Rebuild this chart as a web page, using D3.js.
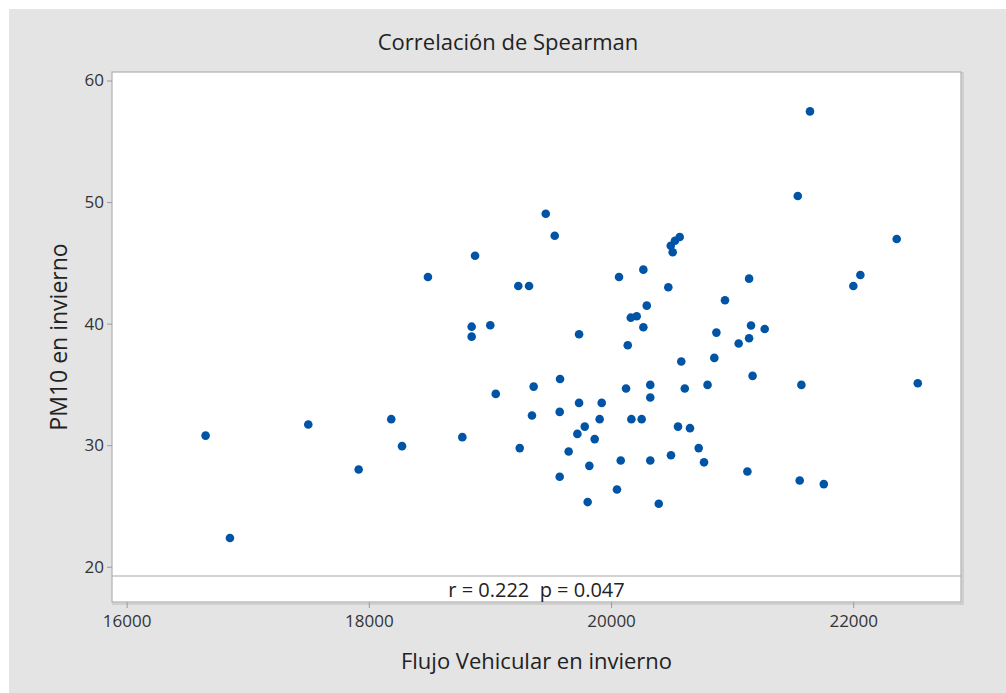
<!DOCTYPE html>
<html>
<head>
<meta charset="utf-8">
<script src="https://cdn.jsdelivr.net/npm/d3@7"></script>
<style>
  body { margin: 0; background: #fff; }
  text { font-family: "Open Sans", "Noto Sans", sans-serif; fill: #222; }
  .tick text { font-size: 17px; fill: #333; }
  .tick line { stroke: #9a9a9a; }
</style>
</head>
<body>
<div class="chart"></div>
<script>
var svgWidth = 1006;
var svgHeight = 693;

// plot box in pixels
var box = { left: 112, top: 72, right: 961, bottom: 602 };
var statsHeight = 26;

// data
var flujo = [16652, 16853, 17500, 17916, 18185, 18274, 18488, 18772, 18849, 18849,
  18877, 19003, 19048, 19234, 19323, 19246, 19347, 19361, 19461, 19535,
  19579, 19576, 19576, 19650, 19736, 19736, 19722, 19783, 19807, 19821,
  19865, 19923, 19906, 20049, 20080, 20066, 20124, 20138, 20163, 20212,
  20168, 20253, 20267, 20267, 20295, 20324, 20324, 20324, 20394, 20473,
  20495, 20493, 20509, 20528, 20567, 20553, 20580, 20609, 20652, 20724,
  20768, 20797, 20853, 20870, 20941, 21054, 21140, 21140, 21156, 21126,
  21169, 21269, 21542, 21572, 21558, 21643, 21757, 22001, 22059, 22359,
  22533];
var pm10 = [30.79, 22.36, 31.70, 28.00, 32.14, 29.92, 43.84, 30.66, 39.75, 38.93,
  45.59, 39.87, 34.22, 43.10, 43.10, 29.76, 32.44, 34.82, 49.04, 47.23,
  35.45, 32.74, 27.40, 29.48, 39.13, 33.48, 30.93, 31.53, 25.32, 28.30,
  30.50, 33.48, 32.14, 26.35, 28.74, 43.84, 34.66, 38.22, 40.49, 40.61,
  32.14, 32.14, 44.44, 39.70, 41.48, 34.96, 33.92, 28.74, 25.18, 42.99,
  29.17, 46.41, 45.87, 46.82, 47.13, 31.53, 36.88, 34.66, 31.40, 29.76,
  28.59, 34.96, 37.18, 39.26, 41.92, 38.36, 43.70, 38.80, 39.84, 27.83,
  35.70, 39.56, 50.50, 34.96, 27.09, 57.46, 26.80, 43.10, 44.00, 46.96,
  35.10];

var xTicks = [16000, 18000, 20000, 22000];
var yTicks = [20, 30, 40, 50, 60];
var xDomain = [15879, 22890];
var yDomain = [17.1, 60.7];

var title = "Correlación de Spearman";
var xLabel = "Flujo Vehicular en invierno";
var yLabel = "PM10 en invierno";
var statsText = "r = 0.222  p = 0.047";

var svg = d3.select(".chart")
  .append("svg")
  .attr("width", svgWidth)
  .attr("height", svgHeight);

// gray frame
svg.append("rect")
  .attr("x", 9)
  .attr("y", 9)
  .attr("width", svgWidth - 9)
  .attr("height", svgHeight - 9)
  .attr("fill", "#e4e4e4");

var xScale = d3.scaleLinear().domain(xDomain).range([box.left, box.right]);
var yScale = d3.scaleLinear().domain(yDomain).range([box.bottom, box.top]);

// plot box with soft shadow edge
svg.append("rect")
  .attr("x", box.left + 1)
  .attr("y", box.top + 1)
  .attr("width", box.right - box.left + 1)
  .attr("height", box.bottom - box.top + 1)
  .attr("fill", "none")
  .attr("stroke", "#cfcfcf")
  .attr("stroke-width", 2);
svg.append("rect")
  .attr("x", box.left)
  .attr("y", box.top)
  .attr("width", box.right - box.left)
  .attr("height", box.bottom - box.top)
  .attr("fill", "#fff")
  .attr("stroke", "#b0b0b0")
  .attr("stroke-width", 1.2);

// stats strip
svg.append("line")
  .attr("x1", box.left)
  .attr("x2", box.right)
  .attr("y1", box.bottom - statsHeight)
  .attr("y2", box.bottom - statsHeight)
  .attr("stroke", "#a8a8a8")
  .attr("stroke-width", 1.2);

svg.append("text")
  .attr("x", (box.left + box.right) / 2)
  .attr("y", box.bottom - 5)
  .attr("text-anchor", "middle")
  .style("font-size", "20px")
  .style("white-space", "pre")
  .text(statsText);

// axes
var leftAxis = d3.axisLeft(yScale).tickValues(yTicks).tickSize(5).tickPadding(3);
var bottomAxis = d3.axisBottom(xScale).tickValues(xTicks).tickSize(6).tickPadding(7)
  .tickFormat(d3.format("d"));

svg.append("g")
  .attr("transform", `translate(${box.left}, 0)`)
  .call(leftAxis)
  .call(g => g.select(".domain").remove());

svg.append("g")
  .attr("transform", `translate(0, ${box.bottom})`)
  .call(bottomAxis)
  .call(g => g.select(".domain").remove());

// points
svg.append("g")
  .selectAll("circle")
  .data(flujo)
  .enter()
  .append("circle")
  .attr("cx", d => xScale(d))
  .attr("cy", (d, i) => yScale(pm10[i]))
  .attr("r", 4.3)
  .attr("fill", "#0054a6");

// title and labels
svg.append("text")
  .attr("x", 508)
  .attr("y", 50)
  .attr("text-anchor", "middle")
  .style("font-size", "22px")
  .text(title);

svg.append("text")
  .attr("x", (box.left + box.right) / 2)
  .attr("y", 669)
  .attr("text-anchor", "middle")
  .style("font-size", "22px")
  .text(xLabel);

svg.append("text")
  .attr("transform", `translate(67, ${(box.top + box.bottom) / 2}) rotate(-90)`)
  .attr("text-anchor", "middle")
  .style("font-size", "23px")
  .text(yLabel);
</script>
</body>
</html>
